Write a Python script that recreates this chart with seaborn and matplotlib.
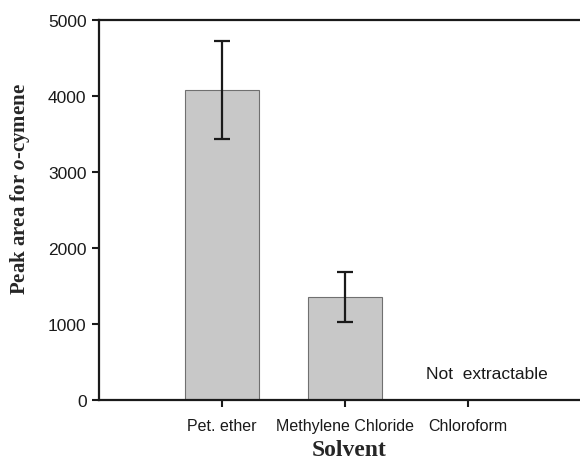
import numpy as np
import pandas as pd
import matplotlib
matplotlib.use("Agg")
import matplotlib.pyplot as plt
import seaborn as sns

# data
SOLVENTS   = ["Pet. ether", "Methylene Chloride", "Chloroform"]
MEASURED   = ["Pet. ether", "Methylene Chloride"]
PEAK_AREA  = [4075, 1355]
PEAK_ERR   = [645, 333]
NOTE_TEXT  = "Not  extractable"
Y_TICKS    = [0, 1000, 2000, 3000, 4000, 5000]

sns.set_style("ticks")
plt.rcParams["font.family"] = ["Liberation Sans", "DejaVu Sans"]
plt.rcParams["mathtext.fontset"] = "custom"
plt.rcParams["mathtext.it"] = "Liberation Serif:italic:bold"
plt.rcParams["mathtext.rm"] = "Liberation Serif:bold"

df = pd.DataFrame({"Solvent": MEASURED, "Peak": PEAK_AREA})

fig = plt.figure(figsize=(5.8, 4.64), dpi=100)
ax = fig.add_axes([0.1707, 0.1358, 0.8293, 0.8189])

sns.barplot(data=df, x="Solvent", y="Peak", order=SOLVENTS, color="#c8c8c8",
            edgecolor="#707070", linewidth=0.8, width=0.6, saturation=1,
            errorbar=None, ax=ax)

pos = [SOLVENTS.index(s) for s in MEASURED]
ax.errorbar(pos, PEAK_AREA, yerr=PEAK_ERR, fmt="none", ecolor="#1a1a1a",
            elinewidth=1.6, capsize=5.5, capthick=1.6)

ax.text(SOLVENTS.index("Chloroform") + 0.15, 355, NOTE_TEXT,
        ha="center", va="center", fontsize=12.5, color="#1a1a1a")

ax.set_xlim(-1.0, 2.91)
ax.set_ylim(0, 5000)
ax.set_yticks(Y_TICKS)
ax.tick_params(axis="both", colors="#1a1a1a", length=5, width=1.5)
ax.tick_params(axis="y", labelsize=12.5, pad=4)
ax.tick_params(axis="x", labelsize=11.5, pad=8)

for side in ["left", "bottom", "top"]:
    ax.spines[side].set_linewidth(1.6)
    ax.spines[side].set_color("#1a1a1a")
ax.spines["right"].set_visible(False)
ax.spines["top"].set_visible(True)

ax.set_xlabel("Solvent", family=["Liberation Serif", "DejaVu Serif"],
              fontweight="bold", fontsize=17)
ax.xaxis.set_label_coords(0.52, -0.103)
ax.set_ylabel("Peak area for $\\it{o}$-cymene",
              family=["Liberation Serif", "DejaVu Serif"],
              fontweight="bold", fontsize=15)
ax.yaxis.set_label_coords(-0.14, 0.558)

fig.savefig("out.png", dpi=100, facecolor="white")
